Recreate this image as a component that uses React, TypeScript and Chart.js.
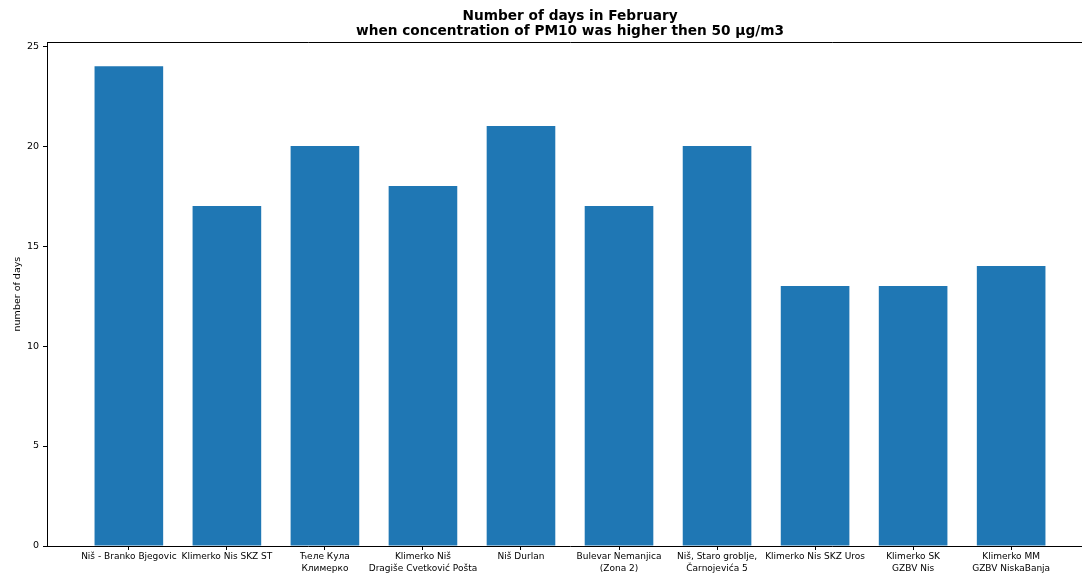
import React, { useEffect, useRef } from "react";
import { Chart, registerables } from "chart.js";

Chart.register(...registerables);

const stations: string[][] = [
  ["Niš - Branko Bjegovic"],
  ["Klimerko Nis SKZ ST"],
  ["Ћеле Кула", "Климерко"],
  ["Klimerko Niš", "Dragiše Cvetković Pošta"],
  ["Niš Durlan"],
  ["Bulevar Nemanjica", "(Zona 2)"],
  ["Niš, Staro groblje,", "Čarnojevića 5"],
  ["Klimerko Nis SKZ Uros"],
  ["Klimerko SK", "GZBV Nis"],
  ["Klimerko MM", "GZBV NiskaBanja"],
];
const daysOver50: number[] = [24, 17, 20, 18, 21, 17, 20, 13, 13, 14];
const yTicks: number[] = [0, 5, 10, 15, 20, 25];
const titleLines: string[] = [
  "Number of days in February",
  "when concentration of PM10 was higher then 50 µg/m3",
];
const yLabel = "number of days";

const X_MIN = -0.835;
const X_MAX = 9.835;
const Y_MAX = 25.2;

export default function App() {
  const ref = useRef<HTMLCanvasElement | null>(null);
  useEffect(() => {
    if (!ref.current) return;
    Chart.defaults.font.family = "'DejaVu Sans', sans-serif";
    Chart.defaults.color = "#000";
    const chart = new Chart(ref.current, {
      type: "bar",
      data: {
        datasets: [
          {
            data: daysOver50.map((v, i) => ({ x: i, y: v })),
            backgroundColor: "#1f77b4",
            borderWidth: 0,
            categoryPercentage: 1,
            barPercentage: 0.7,
            xAxisID: "x",
            yAxisID: "y",
          },
        ],
      },
      options: {
        animation: false,
        responsive: false,
        events: [],
        layout: { padding: 0 },
        plugins: {
          legend: { display: false },
          tooltip: { enabled: false },
          title: {
            display: true,
            text: titleLines,
            font: { size: 13.7, weight: "bold", lineHeight: 1.1 },
            color: "#000",
            padding: { top: 9, bottom: 3 },
          },
        },
        scales: {
          x: {
            type: "linear",
            position: "bottom",
            min: X_MIN,
            max: X_MAX,
            offset: false,
            afterBuildTicks: (s: any) => {
              s.ticks = stations.map((_, i) => ({ value: i }));
            },
            afterFit: (s: any) => {
              s.height = 28;
            },
            ticks: {
              autoSkip: false,
              maxRotation: 0,
              minRotation: 0,
              padding: 1,
              font: { size: 9, lineHeight: 1.3 },
              color: "#000",
              callback: (v: any) => stations[Math.round(Number(v))] ?? "",
            },
            grid: {
              display: true,
              offset: false,
              drawOnChartArea: false,
              drawTicks: true,
              tickLength: 4,
              color: "#000",
            },
            border: { display: true, color: "#000", width: 1 },
          },
          xTop: {
            type: "linear",
            position: "top",
            min: X_MIN,
            max: X_MAX,
            offset: false,
            ticks: { display: false },
            grid: { display: false },
            border: { display: true, color: "#000", width: 1 },
            afterFit: (s: any) => {
              s.height = 0;
            },
          },
          y: {
            type: "linear",
            min: 0,
            max: Y_MAX,
            afterBuildTicks: (s: any) => {
              s.ticks = yTicks.map((v) => ({ value: v }));
            },
            afterFit: (s: any) => {
              s.width = 47;
            },
            ticks: {
              padding: 4,
              font: { size: 9.5 },
              color: "#000",
            },
            grid: {
              display: true,
              drawOnChartArea: false,
              drawTicks: true,
              tickLength: 4,
              color: "#000",
            },
            border: { display: true, color: "#000", width: 1 },
            title: {
              display: true,
              text: yLabel,
              font: { size: 9.5 },
              color: "#000",
              padding: { top: 12, bottom: 0 },
            },
          },
          yRight: {
            type: "linear",
            position: "right",
            min: 0,
            max: Y_MAX,
            ticks: { display: false },
            grid: { display: false },
            border: { display: true, color: "#000", width: 1 },
            afterFit: (s: any) => {
              s.width = 47;
            },
          },
        },
      } as any,
    });
    return () => chart.destroy();
  }, []);
  return (
    <div
      style={{
        position: "fixed",
        left: 0,
        top: 0,
        width: 1082,
        height: 574,
        overflow: "hidden",
        background: "#fff",
      }}
    >
      <canvas
        ref={ref}
        width={1140}
        height={574}
        style={{ display: "block", width: 1140, height: 574 }}
      />
    </div>
  );
}
